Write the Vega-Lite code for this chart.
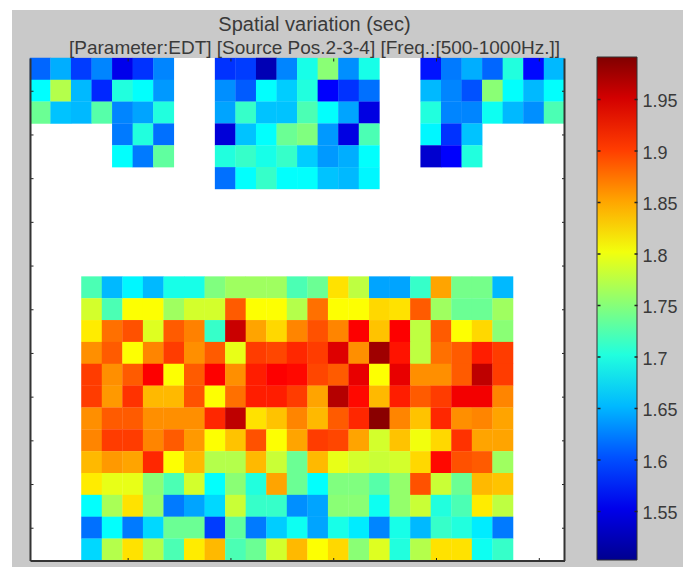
{"$schema":"https://vega.github.io/schema/vega-lite/v6.json","width":671,"height":557,"autosize":{"type":"none"},"padding":{"left":12,"top":10,"right":0,"bottom":0},"background":"#ffffff","view":{"fill":"#c9c9c9","stroke":null},
"title":{"text":"Spatial variation (sec)","subtitle":"[Parameter:EDT] [Source Pos.2-3-4] [Freq.:[500-1000Hz.]]","anchor":"middle","frame":"group","dx":-33,"offset":-48,"font":"Liberation Sans","fontWeight":"normal","fontSize":20,"color":"#3a3a3a","subtitleFont":"Liberation Sans","subtitleFontSize":19,"subtitleColor":"#3a3a3a","subtitlePadding":4},
"datasets":{"cells":[
{"x":0.75,"y":1,"v":1.61},{"x":1.75,"y":1,"v":1.645},{"x":2.75,"y":1,"v":1.59},{"x":3.75,"y":1,"v":1.625},{"x":4.75,"y":1,"v":1.55},{"x":5.75,"y":1,"v":1.585},{"x":6.75,"y":1,"v":1.625},
{"x":0.75,"y":2,"v":1.684},{"x":1.75,"y":2,"v":1.77},{"x":2.75,"y":2,"v":1.65},{"x":3.75,"y":2,"v":1.58},{"x":4.75,"y":2,"v":1.7},{"x":5.75,"y":2,"v":1.685},{"x":6.75,"y":2,"v":1.635},
{"x":0.75,"y":3,"v":1.735},{"x":1.75,"y":3,"v":1.655},{"x":2.75,"y":3,"v":1.65},{"x":3.75,"y":3,"v":1.725},{"x":4.75,"y":3,"v":1.625},{"x":5.75,"y":3,"v":1.64},{"x":6.75,"y":3,"v":1.7},
{"x":4.75,"y":4,"v":1.62},{"x":5.75,"y":4,"v":1.7},{"x":6.75,"y":4,"v":1.615},
{"x":4.75,"y":5,"v":1.685},{"x":5.75,"y":5,"v":1.62},{"x":6.75,"y":5,"v":1.73},
{"x":9.75,"y":1,"v":1.585},{"x":10.75,"y":1,"v":1.59},{"x":11.75,"y":1,"v":1.52},{"x":12.75,"y":1,"v":1.625},{"x":13.75,"y":1,"v":1.695},{"x":14.75,"y":1,"v":1.75},{"x":15.75,"y":1,"v":1.63},{"x":16.75,"y":1,"v":1.695},
{"x":9.75,"y":2,"v":1.63},{"x":10.75,"y":2,"v":1.605},{"x":11.75,"y":2,"v":1.685},{"x":12.75,"y":2,"v":1.66},{"x":13.75,"y":2,"v":1.7},{"x":14.75,"y":2,"v":1.56},{"x":15.75,"y":2,"v":1.585},{"x":16.75,"y":2,"v":1.615},
{"x":9.75,"y":3,"v":1.64},{"x":10.75,"y":3,"v":1.71},{"x":11.75,"y":3,"v":1.655},{"x":12.75,"y":3,"v":1.655},{"x":13.75,"y":3,"v":1.72},{"x":14.75,"y":3,"v":1.685},{"x":15.75,"y":3,"v":1.64},{"x":16.75,"y":3,"v":1.545},
{"x":9.75,"y":4,"v":1.54},{"x":10.75,"y":4,"v":1.655},{"x":11.75,"y":4,"v":1.685},{"x":12.75,"y":4,"v":1.735},{"x":13.75,"y":4,"v":1.745},{"x":14.75,"y":4,"v":1.635},{"x":15.75,"y":4,"v":1.545},{"x":16.75,"y":4,"v":1.72},
{"x":9.75,"y":5,"v":1.7},{"x":10.75,"y":5,"v":1.71},{"x":11.75,"y":5,"v":1.695},{"x":12.75,"y":5,"v":1.71},{"x":13.75,"y":5,"v":1.66},{"x":14.75,"y":5,"v":1.635},{"x":15.75,"y":5,"v":1.645},{"x":16.75,"y":5,"v":1.685},
{"x":9.75,"y":6,"v":1.615},{"x":10.75,"y":6,"v":1.685},{"x":11.75,"y":6,"v":1.71},{"x":12.75,"y":6,"v":1.685},{"x":13.75,"y":6,"v":1.685},{"x":14.75,"y":6,"v":1.655},{"x":15.75,"y":6,"v":1.65},{"x":16.75,"y":6,"v":1.68},
{"x":19.75,"y":1,"v":1.57},{"x":20.75,"y":1,"v":1.62},{"x":21.75,"y":1,"v":1.645},{"x":22.75,"y":1,"v":1.61},{"x":23.75,"y":1,"v":1.7},{"x":24.75,"y":1,"v":1.565},{"x":25.75,"y":1,"v":1.65},
{"x":19.75,"y":2,"v":1.65},{"x":20.75,"y":2,"v":1.625},{"x":21.75,"y":2,"v":1.6},{"x":22.75,"y":2,"v":1.75},{"x":23.75,"y":2,"v":1.685},{"x":24.75,"y":2,"v":1.65},{"x":25.75,"y":2,"v":1.685},
{"x":19.75,"y":3,"v":1.7},{"x":20.75,"y":3,"v":1.625},{"x":21.75,"y":3,"v":1.625},{"x":22.75,"y":3,"v":1.69},{"x":23.75,"y":3,"v":1.65},{"x":24.75,"y":3,"v":1.63},{"x":25.75,"y":3,"v":1.72},
{"x":19.75,"y":4,"v":1.68},{"x":20.75,"y":4,"v":1.585},{"x":21.75,"y":4,"v":1.655},
{"x":19.75,"y":5,"v":1.535},{"x":20.75,"y":5,"v":1.56},{"x":21.75,"y":5,"v":1.7},
{"x":3.25,"y":11,"v":1.72},{"x":4.25,"y":11,"v":1.65},{"x":5.25,"y":11,"v":1.68},{"x":6.25,"y":11,"v":1.65},{"x":7.25,"y":11,"v":1.695},{"x":8.25,"y":11,"v":1.695},{"x":9.25,"y":11,"v":1.745},{"x":10.25,"y":11,"v":1.76},{"x":11.25,"y":11,"v":1.76},{"x":12.25,"y":11,"v":1.76},{"x":13.25,"y":11,"v":1.72},{"x":14.25,"y":11,"v":1.735},{"x":15.25,"y":11,"v":1.82},{"x":16.25,"y":11,"v":1.775},{"x":17.25,"y":11,"v":1.64},{"x":18.25,"y":11,"v":1.64},{"x":19.25,"y":11,"v":1.71},{"x":20.25,"y":11,"v":1.85},{"x":21.25,"y":11,"v":1.74},{"x":22.25,"y":11,"v":1.74},{"x":23.25,"y":11,"v":1.65},
{"x":3.25,"y":12,"v":1.785},{"x":4.25,"y":12,"v":1.72},{"x":5.25,"y":12,"v":1.805},{"x":6.25,"y":12,"v":1.805},{"x":7.25,"y":12,"v":1.76},{"x":8.25,"y":12,"v":1.785},{"x":9.25,"y":12,"v":1.785},{"x":10.25,"y":12,"v":1.885},{"x":11.25,"y":12,"v":1.805},{"x":12.25,"y":12,"v":1.805},{"x":13.25,"y":12,"v":1.77},{"x":14.25,"y":12,"v":1.875},{"x":15.25,"y":12,"v":1.805},{"x":16.25,"y":12,"v":1.805},{"x":17.25,"y":12,"v":1.825},{"x":18.25,"y":12,"v":1.82},{"x":19.25,"y":12,"v":1.885},{"x":20.25,"y":12,"v":1.76},{"x":21.25,"y":12,"v":1.735},{"x":22.25,"y":12,"v":1.735},{"x":23.25,"y":12,"v":1.76},
{"x":3.25,"y":13,"v":1.815},{"x":4.25,"y":13,"v":1.875},{"x":5.25,"y":13,"v":1.89},{"x":6.25,"y":13,"v":1.79},{"x":7.25,"y":13,"v":1.885},{"x":8.25,"y":13,"v":1.867},{"x":9.25,"y":13,"v":1.71},{"x":10.25,"y":13,"v":1.955},{"x":11.25,"y":13,"v":1.85},{"x":12.25,"y":13,"v":1.825},{"x":13.25,"y":13,"v":1.865},{"x":14.25,"y":13,"v":1.89},{"x":15.25,"y":13,"v":1.865},{"x":16.25,"y":13,"v":1.93},{"x":17.25,"y":13,"v":1.835},{"x":18.25,"y":13,"v":1.93},{"x":19.25,"y":13,"v":1.775},{"x":20.25,"y":13,"v":1.885},{"x":21.25,"y":13,"v":1.805},{"x":22.25,"y":13,"v":1.825},{"x":23.25,"y":13,"v":1.75},
{"x":3.25,"y":14,"v":1.86},{"x":4.25,"y":14,"v":1.885},{"x":5.25,"y":14,"v":1.805},{"x":6.25,"y":14,"v":1.865},{"x":7.25,"y":14,"v":1.9},{"x":8.25,"y":14,"v":1.86},{"x":9.25,"y":14,"v":1.885},{"x":10.25,"y":14,"v":1.795},{"x":11.25,"y":14,"v":1.9},{"x":12.25,"y":14,"v":1.895},{"x":13.25,"y":14,"v":1.91},{"x":14.25,"y":14,"v":1.9},{"x":15.25,"y":14,"v":1.945},{"x":16.25,"y":14,"v":1.86},{"x":17.25,"y":14,"v":1.975},{"x":18.25,"y":14,"v":1.92},{"x":19.25,"y":14,"v":1.775},{"x":20.25,"y":14,"v":1.875},{"x":21.25,"y":14,"v":1.885},{"x":22.25,"y":14,"v":1.915},{"x":23.25,"y":14,"v":1.9},
{"x":3.25,"y":15,"v":1.9},{"x":4.25,"y":15,"v":1.86},{"x":5.25,"y":15,"v":1.885},{"x":6.25,"y":15,"v":1.93},{"x":7.25,"y":15,"v":1.805},{"x":8.25,"y":15,"v":1.885},{"x":9.25,"y":15,"v":1.93},{"x":10.25,"y":15,"v":1.86},{"x":11.25,"y":15,"v":1.915},{"x":12.25,"y":15,"v":1.93},{"x":13.25,"y":15,"v":1.925},{"x":14.25,"y":15,"v":1.895},{"x":15.25,"y":15,"v":1.885},{"x":16.25,"y":15,"v":1.94},{"x":17.25,"y":15,"v":1.805},{"x":18.25,"y":15,"v":1.94},{"x":19.25,"y":15,"v":1.86},{"x":20.25,"y":15,"v":1.86},{"x":21.25,"y":15,"v":1.885},{"x":22.25,"y":15,"v":1.96},{"x":23.25,"y":15,"v":1.9},
{"x":3.25,"y":16,"v":1.9},{"x":4.25,"y":16,"v":1.855},{"x":5.25,"y":16,"v":1.905},{"x":6.25,"y":16,"v":1.84},{"x":7.25,"y":16,"v":1.84},{"x":8.25,"y":16,"v":1.89},{"x":9.25,"y":16,"v":1.805},{"x":10.25,"y":16,"v":1.875},{"x":11.25,"y":16,"v":1.915},{"x":12.25,"y":16,"v":1.915},{"x":13.25,"y":16,"v":1.9},{"x":14.25,"y":16,"v":1.85},{"x":15.25,"y":16,"v":1.965},{"x":16.25,"y":16,"v":1.925},{"x":17.25,"y":16,"v":1.84},{"x":18.25,"y":16,"v":1.915},{"x":19.25,"y":16,"v":1.885},{"x":20.25,"y":16,"v":1.9},{"x":21.25,"y":16,"v":1.935},{"x":22.25,"y":16,"v":1.935},{"x":23.25,"y":16,"v":1.865},
{"x":3.25,"y":17,"v":1.86},{"x":4.25,"y":17,"v":1.885},{"x":5.25,"y":17,"v":1.885},{"x":6.25,"y":17,"v":1.86},{"x":7.25,"y":17,"v":1.86},{"x":8.25,"y":17,"v":1.86},{"x":9.25,"y":17,"v":1.91},{"x":10.25,"y":17,"v":1.96},{"x":11.25,"y":17,"v":1.82},{"x":12.25,"y":17,"v":1.835},{"x":13.25,"y":17,"v":1.865},{"x":14.25,"y":17,"v":1.84},{"x":15.25,"y":17,"v":1.885},{"x":16.25,"y":17,"v":1.91},{"x":17.25,"y":17,"v":1.985},{"x":18.25,"y":17,"v":1.865},{"x":19.25,"y":17,"v":1.835},{"x":20.25,"y":17,"v":1.91},{"x":21.25,"y":17,"v":1.86},{"x":22.25,"y":17,"v":1.865},{"x":23.25,"y":17,"v":1.85},
{"x":3.25,"y":18,"v":1.865},{"x":4.25,"y":18,"v":1.9},{"x":5.25,"y":18,"v":1.9},{"x":6.25,"y":18,"v":1.865},{"x":7.25,"y":18,"v":1.885},{"x":8.25,"y":18,"v":1.855},{"x":9.25,"y":18,"v":1.805},{"x":10.25,"y":18,"v":1.835},{"x":11.25,"y":18,"v":1.89},{"x":12.25,"y":18,"v":1.805},{"x":13.25,"y":18,"v":1.85},{"x":14.25,"y":18,"v":1.9},{"x":15.25,"y":18,"v":1.895},{"x":16.25,"y":18,"v":1.85},{"x":17.25,"y":18,"v":1.785},{"x":18.25,"y":18,"v":1.835},{"x":19.25,"y":18,"v":1.8},{"x":20.25,"y":18,"v":1.825},{"x":21.25,"y":18,"v":1.905},{"x":22.25,"y":18,"v":1.85},{"x":23.25,"y":18,"v":1.85},
{"x":3.25,"y":19,"v":1.84},{"x":4.25,"y":19,"v":1.855},{"x":5.25,"y":19,"v":1.85},{"x":6.25,"y":19,"v":1.91},{"x":7.25,"y":19,"v":1.805},{"x":8.25,"y":19,"v":1.84},{"x":9.25,"y":19,"v":1.77},{"x":10.25,"y":19,"v":1.77},{"x":11.25,"y":19,"v":1.84},{"x":12.25,"y":19,"v":1.78},{"x":13.25,"y":19,"v":1.735},{"x":14.25,"y":19,"v":1.84},{"x":15.25,"y":19,"v":1.795},{"x":16.25,"y":19,"v":1.785},{"x":17.25,"y":19,"v":1.78},{"x":18.25,"y":19,"v":1.785},{"x":19.25,"y":19,"v":1.825},{"x":20.25,"y":19,"v":1.925},{"x":21.25,"y":19,"v":1.89},{"x":22.25,"y":19,"v":1.885},{"x":23.25,"y":19,"v":1.76},
{"x":3.25,"y":20,"v":1.815},{"x":4.25,"y":20,"v":1.795},{"x":5.25,"y":20,"v":1.795},{"x":6.25,"y":20,"v":1.75},{"x":7.25,"y":20,"v":1.72},{"x":8.25,"y":20,"v":1.785},{"x":9.25,"y":20,"v":1.685},{"x":10.25,"y":20,"v":1.75},{"x":11.25,"y":20,"v":1.7},{"x":12.25,"y":20,"v":1.85},{"x":13.25,"y":20,"v":1.735},{"x":14.25,"y":20,"v":1.685},{"x":15.25,"y":20,"v":1.745},{"x":16.25,"y":20,"v":1.745},{"x":17.25,"y":20,"v":1.725},{"x":18.25,"y":20,"v":1.755},{"x":19.25,"y":20,"v":1.89},{"x":20.25,"y":20,"v":1.78},{"x":21.25,"y":20,"v":1.735},{"x":22.25,"y":20,"v":1.84},{"x":23.25,"y":20,"v":1.835},
{"x":3.25,"y":21,"v":1.685},{"x":4.25,"y":21,"v":1.765},{"x":5.25,"y":21,"v":1.82},{"x":6.25,"y":21,"v":1.755},{"x":7.25,"y":21,"v":1.62},{"x":8.25,"y":21,"v":1.64},{"x":9.25,"y":21,"v":1.665},{"x":10.25,"y":21,"v":1.78},{"x":11.25,"y":21,"v":1.71},{"x":12.25,"y":21,"v":1.71},{"x":13.25,"y":21,"v":1.63},{"x":14.25,"y":21,"v":1.64},{"x":15.25,"y":21,"v":1.75},{"x":16.25,"y":21,"v":1.75},{"x":17.25,"y":21,"v":1.69},{"x":18.25,"y":21,"v":1.755},{"x":19.25,"y":21,"v":1.78},{"x":20.25,"y":21,"v":1.7},{"x":21.25,"y":21,"v":1.72},{"x":22.25,"y":21,"v":1.815},{"x":23.25,"y":21,"v":1.775},
{"x":3.25,"y":22,"v":1.615},{"x":4.25,"y":22,"v":1.685},{"x":5.25,"y":22,"v":1.62},{"x":6.25,"y":22,"v":1.665},{"x":7.25,"y":22,"v":1.735},{"x":8.25,"y":22,"v":1.735},{"x":9.25,"y":22,"v":1.59},{"x":10.25,"y":22,"v":1.73},{"x":11.25,"y":22,"v":1.62},{"x":12.25,"y":22,"v":1.66},{"x":13.25,"y":22,"v":1.69},{"x":14.25,"y":22,"v":1.64},{"x":15.25,"y":22,"v":1.695},{"x":16.25,"y":22,"v":1.675},{"x":17.25,"y":22,"v":1.625},{"x":18.25,"y":22,"v":1.695},{"x":19.25,"y":22,"v":1.65},{"x":20.25,"y":22,"v":1.71},{"x":21.25,"y":22,"v":1.7},{"x":22.25,"y":22,"v":1.675},{"x":23.25,"y":22,"v":1.62},
{"x":3.25,"y":23,"v":1.665},{"x":4.25,"y":23,"v":1.77},{"x":5.25,"y":23,"v":1.82},{"x":6.25,"y":23,"v":1.77},{"x":7.25,"y":23,"v":1.72},{"x":8.25,"y":23,"v":1.815},{"x":9.25,"y":23,"v":1.84},{"x":10.25,"y":23,"v":1.72},{"x":11.25,"y":23,"v":1.735},{"x":12.25,"y":23,"v":1.785},{"x":13.25,"y":23,"v":1.84},{"x":14.25,"y":23,"v":1.805},{"x":15.25,"y":23,"v":1.825},{"x":16.25,"y":23,"v":1.75},{"x":17.25,"y":23,"v":1.79},{"x":18.25,"y":23,"v":1.7},{"x":19.25,"y":23,"v":1.77},{"x":20.25,"y":23,"v":1.82},{"x":21.25,"y":23,"v":1.82},{"x":22.25,"y":23,"v":1.69},{"x":23.25,"y":23,"v":1.71}
],"bar":[{"t":1.55},{"t":1.6},{"t":1.65},{"t":1.7},{"t":1.75},{"t":1.8},{"t":1.85},{"t":1.9},{"t":1.95}]},
"layer":[
{"data":{"values":[{"x0":0.25,"x1":26.25,"y0":0.5,"y1":23.5}]},"mark":{"type":"rect","fill":"#ffffff"},"encoding":{
"x":{"field":"x0","type":"quantitative","scale":{"domain":[0.25,26.25],"range":[18,552.5],"nice":false,"zero":false},"axis":{"title":null,"orient":"bottom","offset":-6.5,"values":[5,10,15,20,25],"labels":false,"grid":false,"tickSize":-502.5,"tickDash":[3,496.5,3],"tickColor":"#222","tickWidth":1,"domainColor":"#333","domainWidth":2,"zindex":1}},
"x2":{"field":"x1"},
"y":{"field":"y0","type":"quantitative","scale":{"domain":[0.5,23.5],"range":[48,550.5],"nice":false,"zero":false},"axis":{"title":null,"orient":"left","offset":-18,"values":[2,4,6,8,10,12,14,16,18,20,22],"labels":false,"grid":false,"tickSize":-534.5,"tickDash":[3,528.5,3],"tickColor":"#222","tickWidth":1,"domainColor":"#333","domainWidth":2,"zindex":1}},
"y2":{"field":"y1"}}},
{"data":{"name":"cells"},"mark":{"type":"rect","width":20.9,"height":22.1},"encoding":{
"x":{"field":"x","type":"quantitative"},
"y":{"field":"y","type":"quantitative","scale":{"domain":[0.5,23.5],"range":[48,550.5],"nice":false,"zero":false},"axis":null},
"color":{"field":"v","type":"quantitative","scale":{"domain":[1.5,1.561,1.684,1.806,1.929,1.99],"range":["#00008f","#0000ff","#00ffff","#ffff00","#ff0000","#800000"],"interpolate":"rgb"},
"legend":{"orient":"none","legendX":585,"legendY":47,"title":null,"padding":0,"gradientLength":503,"gradientThickness":40,"values":[],"gradientStrokeColor":"#333","gradientStrokeWidth":1}}}},
{"data":{"values":[{"y":2}]},"mark":{"type":"point","opacity":0},"encoding":{
"y":{"field":"y","type":"quantitative","scale":{"domain":[0.5,23.5],"range":[48,550.5],"nice":false,"zero":false},"axis":{"title":null,"orient":"right","offset":-119,"values":[2],"labels":false,"ticks":false,"grid":false,"domainColor":"#333","domainWidth":2,"zindex":1}}}},
{"data":{"name":"bar"},"mark":{"type":"point","opacity":0},"encoding":{
"y":{"field":"t","type":"quantitative","scale":{"domain":[1.5,1.99],"range":[552.5,47.8],"nice":false,"zero":false},"axis":{"title":null,"orient":"right","offset":-46,"values":[1.55,1.6,1.65,1.7,1.75,1.8,1.85,1.9,1.95],"format":".2~f","labels":true,"labelFont":"Liberation Sans","labelFontSize":18,"labelColor":"#3a3a3a","labelPadding":45,"labelOffset":2.5,"grid":false,"domain":false,"tickSize":-40,"tickDash":[3,34,3],"tickColor":"#222","tickWidth":1.5,"zindex":1}}}}
],
"resolve":{"scale":{"y":"independent"},"axis":{"y":"independent"}},
"config":{"axis":{"tickRound":false}}}
